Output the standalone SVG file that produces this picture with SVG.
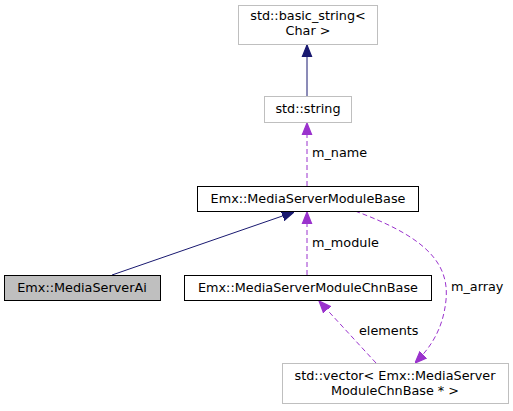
<svg xmlns="http://www.w3.org/2000/svg" width="513" height="411" viewBox="0 0 513 411">
<defs>
<style>
text{font-family:"DejaVu Sans",sans-serif;font-size:12.8px;fill:#000}
.c{text-anchor:middle}
.box{fill:#fff;stroke:#000}
.ext{fill:#fff;stroke:#bfbfbf}
.inh{fill:none;stroke:#191970}
.use{fill:none;stroke:#9a32cd;stroke-dasharray:5,3}
</style>
<marker id="ah" viewBox="0 0 10 10" refX="10" refY="5" markerWidth="12" markerHeight="12" markerUnits="userSpaceOnUse" orient="auto"><path d="M0,1 L10,5 L0,9 Z" fill="#191970" stroke="#191970"/></marker>
<marker id="ap" viewBox="0 0 10 10" refX="10" refY="5" markerWidth="12" markerHeight="12" markerUnits="userSpaceOnUse" orient="auto"><path d="M0,1 L10,5 L0,9 Z" fill="#9a32cd" stroke="#9a32cd"/></marker>
</defs>
<rect width="513" height="411" fill="#fff"/>
<g id="connectors">
<path class="inh" d="M307,96 L307,45" marker-end="url(#ah)"/>
<path class="inh" d="M112,275 L294,212" marker-end="url(#ah)"/>
<path class="use" d="M307,186 L307,123" marker-end="url(#ap)"/>
<text x="312" y="157">m_name</text>
<path class="use" d="M307,275 L307,212" marker-end="url(#ap)"/>
<text x="312" y="247">m_module</text>
<path class="use" d="M355,211 C420,235 450,260 446,300 C443,330 430,348 415,363" marker-end="url(#ap)"/>
<text x="451" y="291">m_array</text>
<path class="use" d="M376,363 L319,301" marker-end="url(#ap)"/>
<text x="359" y="335">elements</text>
</g>
<g id="basic_string">
<rect class="ext" x="238.5" y="5.5" width="139" height="39"/>
<text class="c" x="308" y="20">std::basic_string&lt;</text>
<text class="c" x="308" y="35">Char &gt;</text>
</g>
<g id="string">
<rect class="ext" x="264.5" y="96.5" width="87" height="26"/>
<text class="c" x="308" y="113">std::string</text>
</g>
<g id="ModuleBase">
<rect class="box" x="197.5" y="186.5" width="221" height="25"/>
<text class="c" x="308" y="202.5">Emx::MediaServerModuleBase</text>
</g>
<g id="MediaServerAi">
<rect x="4.5" y="275.5" width="156" height="25" fill="#bfbfbf" stroke="#000"/>
<text class="c" x="82" y="291.5">Emx::MediaServerAi</text>
</g>
<g id="ModuleChnBase">
<rect class="box" x="184.5" y="275.5" width="247" height="25"/>
<text class="c" x="308" y="291.5">Emx::MediaServerModuleChnBase</text>
</g>
<g id="vector">
<rect class="ext" x="282.5" y="363.5" width="226" height="40"/>
<text class="c" x="395" y="380">std::vector&lt; Emx::MediaServer</text>
<text class="c" x="395" y="395">ModuleChnBase * &gt;</text>
</g>
</svg>
